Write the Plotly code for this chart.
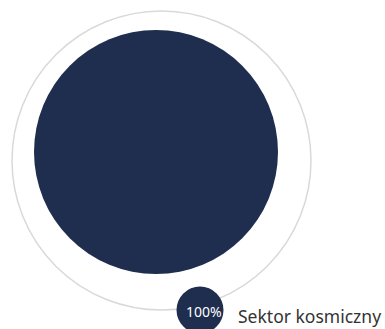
import plotly.graph_objects as go

# Single-sector breakdown
labels = ["Sektor kosmiczny"]
values = [100]
colors = ["#1f2d4e"]

W, H = 385, 329
total = sum(values)
shares = [v / total * 100 for v in values]

fig = go.Figure()

# Main pie (full disc since only one sector)
cx, cy, r = 156, 152, 122
fig.add_trace(go.Pie(
    labels=labels,
    values=values,
    marker=dict(colors=colors, line=dict(width=0)),
    textinfo="none",
    hoverinfo="label+percent",
    sort=False,
    showlegend=False,
    domain=dict(x=[(cx - r) / W, (cx + r) / W],
                y=[1 - (cy + r) / H, 1 - (cy - r) / H]),
))

# Outer guide ring
rcx, rcy, rr = 161.5, 160.5, 149.5
fig.add_shape(type="circle", xref="x", yref="y",
              x0=rcx - rr, x1=rcx + rr, y0=rcy - rr, y1=rcy + rr,
              line=dict(color="#d9d9d9", width=1.5), fillcolor="rgba(0,0,0,0)",
              layer="below")

# Badge with the sector share and its label
bx, by, br = 200, 310, 23.5
fig.add_shape(type="circle", xref="x", yref="y",
              x0=bx - br, x1=bx + br, y0=by - br, y1=by + br,
              line=dict(width=0), fillcolor=colors[0], layer="above")
fig.add_annotation(x=bx + 3.5, y=by + 1.5, xref="x", yref="y",
                   text=f"{shares[0]:.0f}%", showarrow=False,
                   font=dict(family="Noto Sans", size=14, color="#ffffff"))
fig.add_annotation(x=236, y=by + 6, xref="x", yref="y", xanchor="left",
                   text=labels[0], showarrow=False,
                   font=dict(family="Noto Sans", size=17.5, color="#333333"))

fig.update_layout(
    width=W, height=H,
    margin=dict(l=0, r=0, t=0, b=0),
    paper_bgcolor="#ffffff", plot_bgcolor="#ffffff",
    xaxis=dict(range=[0, W], visible=False, fixedrange=True),
    yaxis=dict(range=[H, 0], visible=False, fixedrange=True),
)

fig.write_html("out.html")
